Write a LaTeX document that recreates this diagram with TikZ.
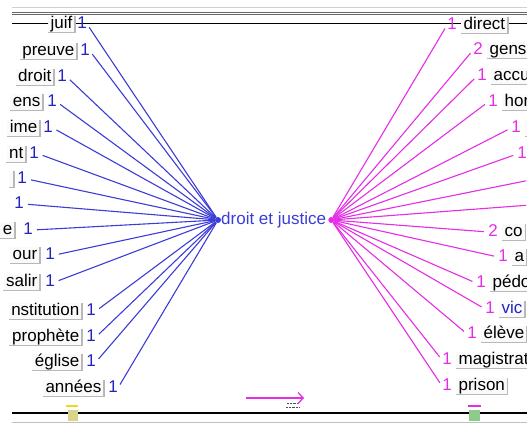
\documentclass[tikz,border=0pt]{standalone}
\usepackage{fontspec}
\setmainfont{Liberation Sans}
\usetikzlibrary{positioning,arrows.meta}
\definecolor{assocblue}{RGB}{60,60,215}
\definecolor{assocpink}{RGB}{228,45,228}
\definecolor{countblue}{RGB}{35,35,190}
\begin{document}
\begin{tikzpicture}[x=1pt, y=-1pt,
  word/.style={font=\fontsize{17}{19}\selectfont, fill=black!2, inner xsep=2.5pt,
    inner ysep=0pt, text height=12.5pt, text depth=4pt},
  freq/.style={font=\fontsize{17}{19}\selectfont, inner sep=0pt,
    text height=12.5pt, text depth=4pt},
  edgeshade/.style={black!28, line width=1.3pt},
  bluelink/.style={assocblue, line width=1.1pt, shorten <=4pt},
  pinklink/.style={assocpink, line width=1.1pt, shorten <=4pt},
  hub/.style={circle, inner sep=0pt, minimum size=6pt}]
  \clip (0,0) rectangle (527,424);
  % window rules, top and bottom
  \draw[black!18, line width=0.8pt] (12,7) -- (527,7);
  \draw[black!60, line width=0.7pt] (12,12) -- (527,12);
  \draw[black!60, line width=0.7pt] (12,14.5) -- (527,14.5);
  \draw[black, line width=1.6pt] (12,23.5) -- (527,23.5);
  \draw[black, line width=1.5pt] (12,413) -- (527,413);
  \draw[black!25, line width=1pt] (12,422) -- (527,422);
  % markers on the bottom rule
  \draw[yellow!90!black, line width=1.2pt] (66,406) -- (78,406);
  \fill[olive!35] (68,410) rectangle (78,421);
  \draw[assocpink, line width=1.2pt] (468,406) -- (481,406);
  \fill[green!55!black!45] (469,410) rectangle (480,421);
  \draw[black!70, densely dotted] (287,403) -- (298,403) (286,407) -- (299,407);
  % central word
  \node[freq, text=assocblue, anchor=west] (theme) at (221,220) {droit et justice};
  \node[hub, fill=assocblue] (hubL) at ([xshift=-3pt]theme.west) {};
  \node[hub, fill=assocpink] (hubR) at ([xshift=5pt]theme.east) {};
  % left: words before
  \foreach \y/\bx/\nx/\txt [count=\i] in {24/75/82/juif, 51/77/85/preuve,
      77/54/62/droit, 102/43/52/ens, 128/40/48/ime, 154/26/34/nt,
      179/14/22/{}, 204/-4/19/{}, 230/15/28/e, 255/40/50/our,
      282/40/50/salir, 311/82/91/nstitution, 337/82/91/prophète,
      362/82/91/église, 388/104/113/années}{
    \node[word, anchor=east] (lw\i) at (\bx,\y) {\txt};
    \draw[edgeshade] (lw\i.north east) -- (lw\i.south east) -- (lw\i.south west);
    \node[freq, text=countblue] (lf\i) at (\nx,\y) {1};
    \draw[bluelink] (lf\i.east) -- (hubL);
  }
  % right: words after
  \foreach \y/\nx/\n/\txt/\tc [count=\i] in {25/452/1/direct/black,
      50/478/2/gens/black, 76/482/1/accu/black, 102/493/1/hor/black,
      128/516/1/{}/black, 154/522/1/{}/black, 180/535/1/{}/black,
      205/535/1/{}/black, 232/493/2/co/black, 257/503/1/a/black,
      283/481/1/pédo/black, 309/490/1/vic/countblue,
      334/472/1/élève/black, 360/447/1/magistrat/black,
      386/447/1/prison/black}{
    \node[freq, text=assocpink] (rf\i) at (\nx,\y) {\n};
    \node[word, anchor=west, text=\tc] (rw\i) at ([xshift=4pt]rf\i.east) {\txt};
    \draw[edgeshade] (rw\i.north east) -- (rw\i.south east) -- (rw\i.south west);
    \draw[pinklink] (rf\i.west) -- (hubR);
  }
  % direction arrow
  \coordinate (arrowA) at (246,398);
  \coordinate (arrowB) at (304,398);
  \draw[assocpink, line width=1.3pt, -{Straight Barb[length=5pt, width=11pt]}]
    (arrowA) -- (arrowB);
\end{tikzpicture}
\end{document}
